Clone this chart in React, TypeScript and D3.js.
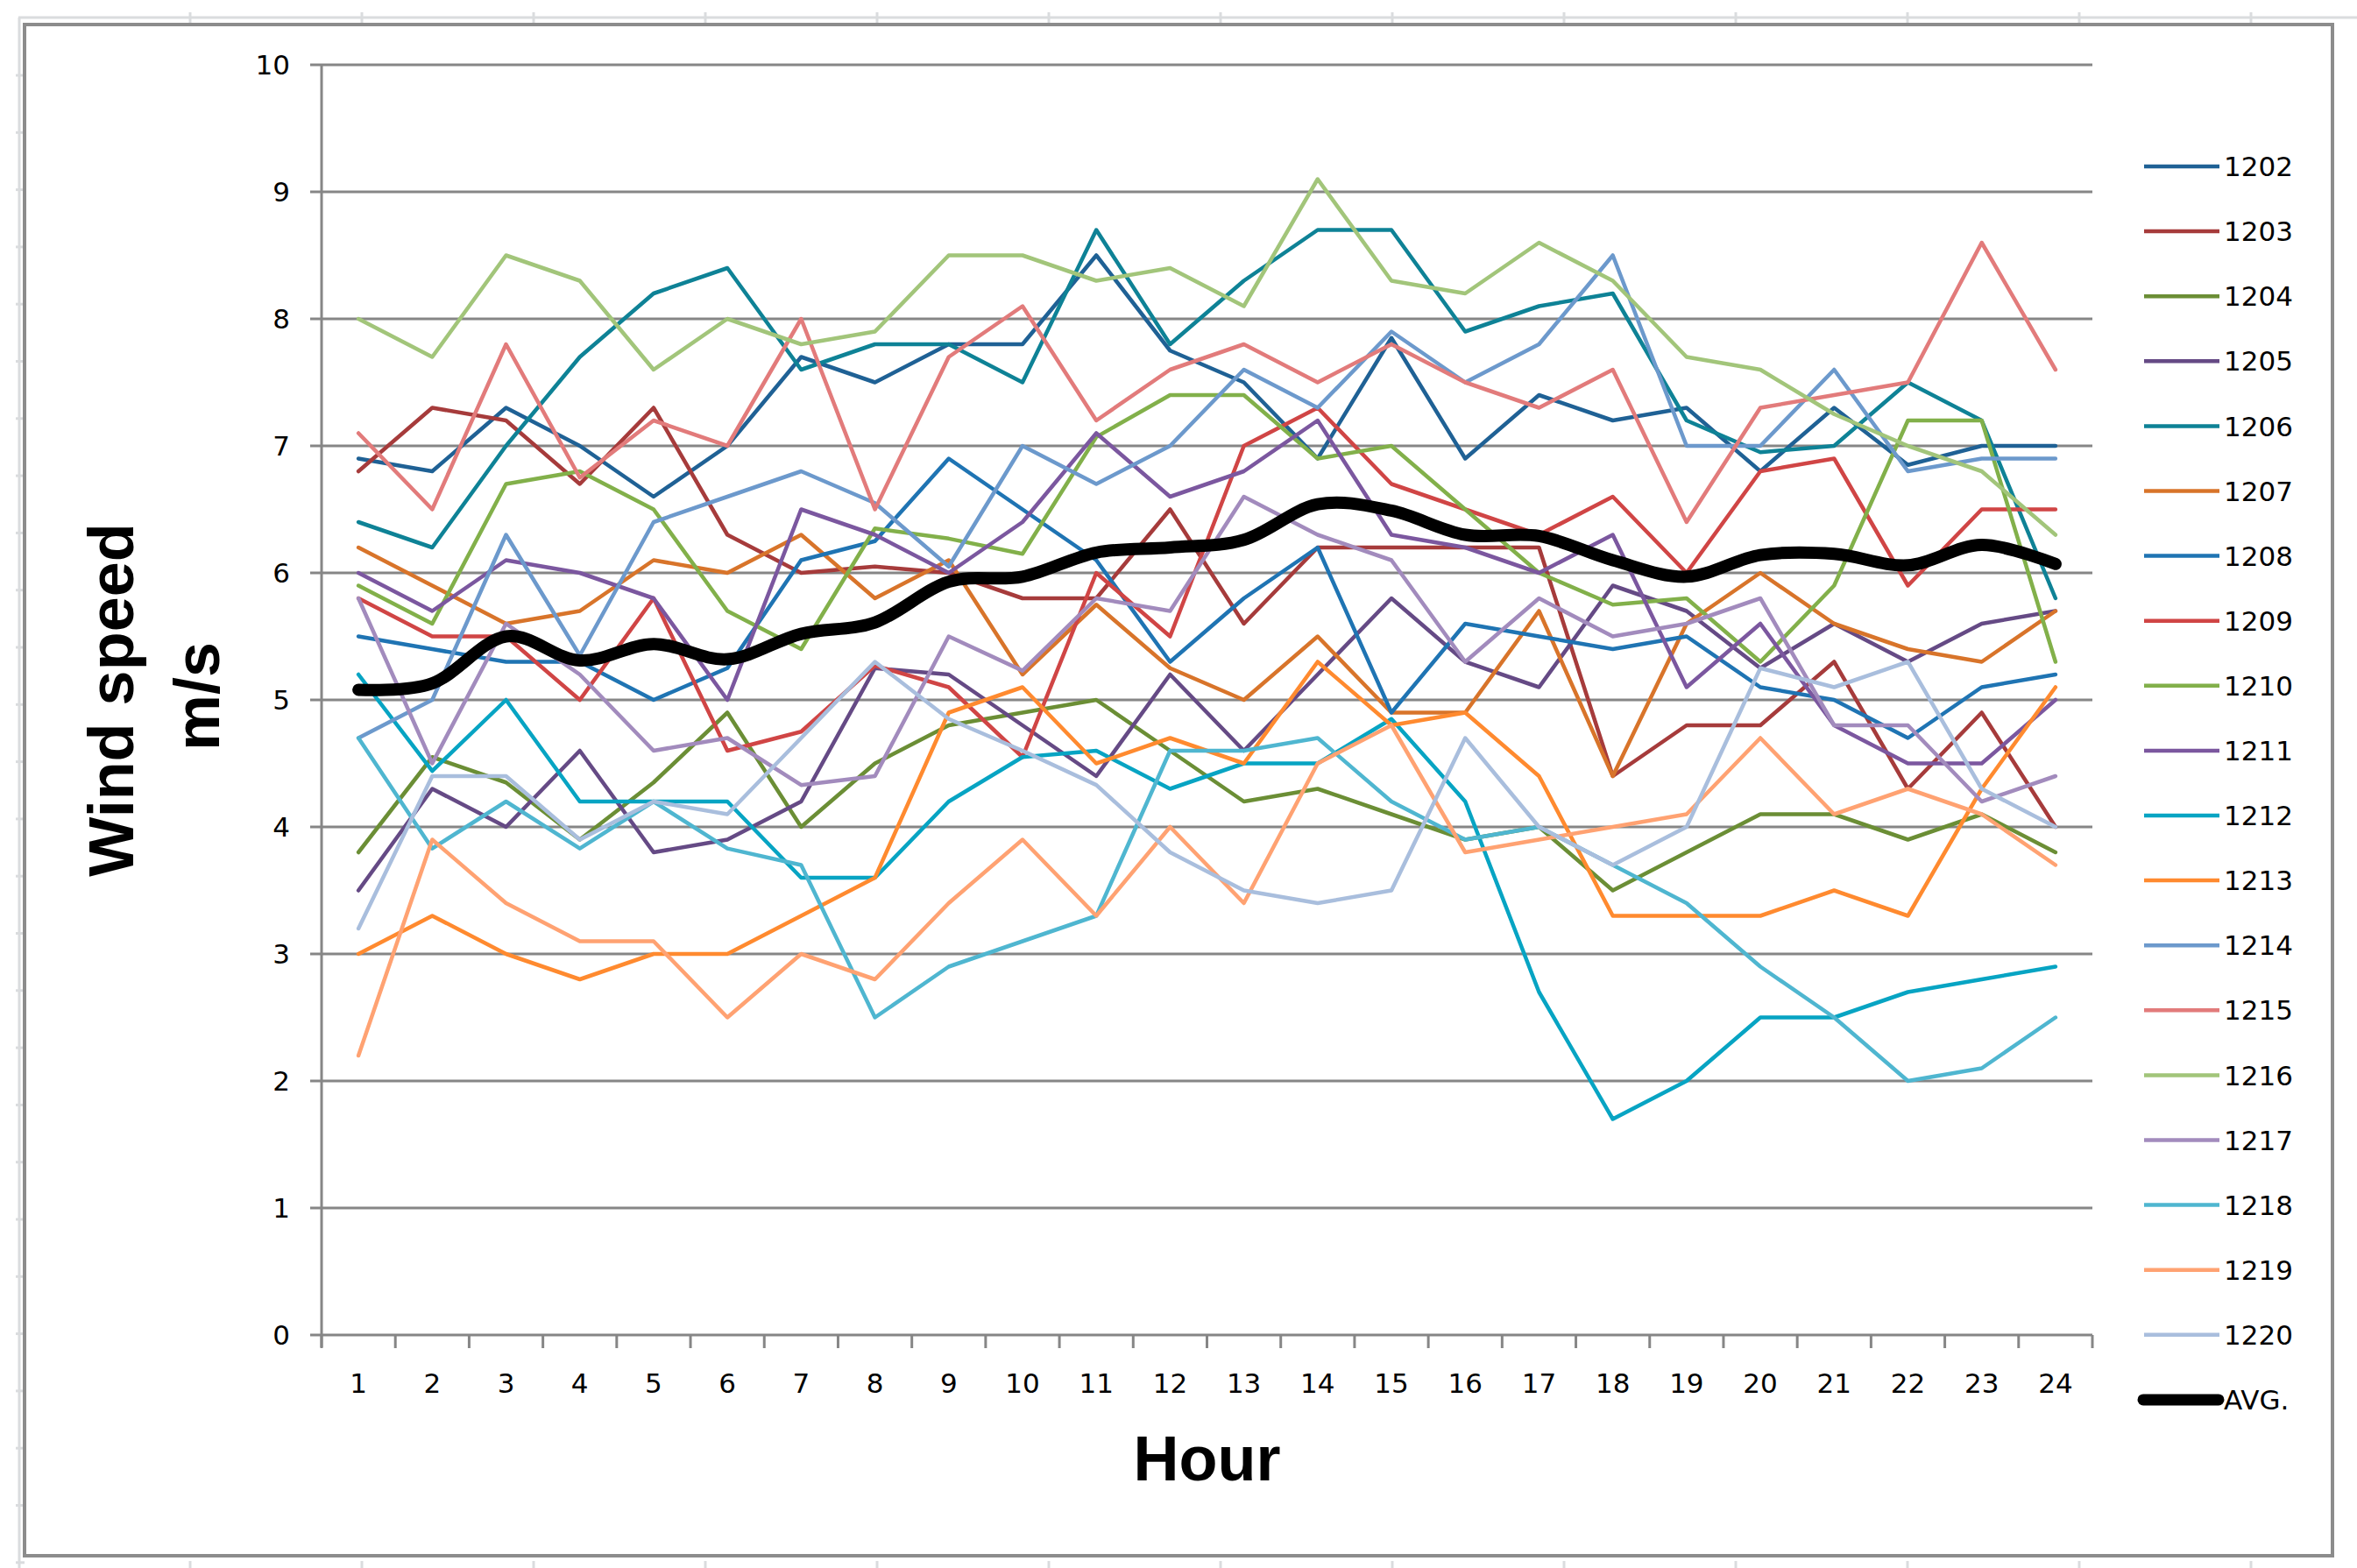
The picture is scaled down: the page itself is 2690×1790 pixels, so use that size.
import * as d3 from "d3";

// hours on the category axis
const HOURS = [1, 2, 3, 4, 5, 6, 7, 8, 9, 10, 11, 12, 13, 14, 15, 16, 17, 18, 19, 20, 21, 22, 23, 24];
const Y_TICKS = [0, 1, 2, 3, 4, 5, 6, 7, 8, 9, 10];

// wind speed per station, m/s, hour 1..24
const s1202 = [6.9, 6.8, 7.3, 7.0, 6.6, 7.0, 7.7, 7.5, 7.8, 7.8, 8.5, 7.75, 7.5, 6.9, 7.85, 6.9, 7.4, 7.2, 7.3, 6.8, 7.3, 6.85, 7.0, 7.0];
const s1203 = [6.8, 7.3, 7.2, 6.7, 7.3, 6.3, 6.0, 6.05, 6.0, 5.8, 5.8, 6.5, 5.6, 6.2, 6.2, 6.2, 6.2, 4.4, 4.8, 4.8, 5.3, 4.3, 4.9, 4.0];
const s1204 = [3.8, 4.55, 4.35, 3.9, 4.35, 4.9, 4.0, 4.5, 4.8, 4.9, 5.0, 4.6, 4.2, 4.3, 4.1, 3.9, 4.0, 3.5, 3.8, 4.1, 4.1, 3.9, 4.1, 3.8];
const s1205 = [3.5, 4.3, 4.0, 4.6, 3.8, 3.9, 4.2, 5.25, 5.2, 4.8, 4.4, 5.2, 4.6, 5.2, 5.8, 5.3, 5.1, 5.9, 5.7, 5.25, 5.6, 5.3, 5.6, 5.7];
const s1206 = [6.4, 6.2, 7.0, 7.7, 8.2, 8.4, 7.6, 7.8, 7.8, 7.5, 8.7, 7.8, 8.3, 8.7, 8.7, 7.9, 8.1, 8.2, 7.2, 6.95, 7.0, 7.5, 7.2, 5.8];
const s1207 = [6.2, 5.9, 5.6, 5.7, 6.1, 6.0, 6.3, 5.8, 6.1, 5.2, 5.75, 5.25, 5.0, 5.5, 4.9, 4.9, 5.7, 4.4, 5.6, 6.0, 5.6, 5.4, 5.3, 5.7];
const s1208 = [5.5, 5.4, 5.3, 5.3, 5.0, 5.25, 6.1, 6.25, 6.9, 6.5, 6.1, 5.3, 5.8, 6.2, 4.9, 5.6, 5.5, 5.4, 5.5, 5.1, 5.0, 4.7, 5.1, 5.2];
const s1209 = [5.8, 5.5, 5.5, 5.0, 5.8, 4.6, 4.75, 5.27, 5.1, 4.55, 6.0, 5.5, 7.0, 7.3, 6.7, 6.5, 6.3, 6.6, 6.0, 6.8, 6.9, 5.9, 6.5, 6.5];
const s1210 = [5.9, 5.6, 6.7, 6.8, 6.5, 5.7, 5.4, 6.35, 6.27, 6.15, 7.07, 7.4, 7.4, 6.9, 7.0, 6.5, 6.0, 5.75, 5.8, 5.3, 5.9, 7.2, 7.2, 5.3];
const s1211 = [6.0, 5.7, 6.1, 6.0, 5.8, 5.0, 6.5, 6.3, 6.0, 6.4, 7.1, 6.6, 6.8, 7.2, 6.3, 6.2, 6.0, 6.3, 5.1, 5.6, 4.8, 4.5, 4.5, 5.0];
const s1212 = [5.2, 4.44, 5.0, 4.2, 4.2, 4.2, 3.6, 3.6, 4.2, 4.55, 4.6, 4.3, 4.5, 4.5, 4.85, 4.2, 2.7, 1.7, 2.0, 2.5, 2.5, 2.7, 2.8, 2.9];
const s1213 = [3.0, 3.3, 3.0, 2.8, 3.0, 3.0, 3.3, 3.6, 4.9, 5.1, 4.5, 4.7, 4.5, 5.3, 4.8, 4.9, 4.4, 3.3, 3.3, 3.3, 3.5, 3.3, 4.3, 5.1];
const s1214 = [4.7, 5.0, 6.3, 5.35, 6.4, 6.6, 6.8, 6.55, 6.05, 7.0, 6.7, 7.0, 7.6, 7.3, 7.9, 7.5, 7.8, 8.5, 7.0, 7.0, 7.6, 6.8, 6.9, 6.9];
const s1215 = [7.1, 6.5, 7.8, 6.75, 7.2, 7.0, 8.0, 6.5, 7.7, 8.1, 7.2, 7.6, 7.8, 7.5, 7.8, 7.5, 7.3, 7.6, 6.4, 7.3, 7.4, 7.5, 8.6, 7.6];
const s1216 = [8.0, 7.7, 8.5, 8.3, 7.6, 8.0, 7.8, 7.9, 8.5, 8.5, 8.3, 8.4, 8.1, 9.1, 8.3, 8.2, 8.6, 8.3, 7.7, 7.6, 7.25, 7.0, 6.8, 6.3];
const s1217 = [5.8, 4.5, 5.6, 5.2, 4.6, 4.7, 4.33, 4.4, 5.5, 5.23, 5.8, 5.7, 6.6, 6.3, 6.1, 5.3, 5.8, 5.5, 5.6, 5.8, 4.8, 4.8, 4.2, 4.4];
const s1218 = [4.7, 3.83, 4.2, 3.83, 4.2, 3.83, 3.7, 2.5, 2.9, 3.1, 3.3, 4.6, 4.6, 4.7, 4.2, 3.9, 4.0, 3.7, 3.4, 2.9, 2.5, 2.0, 2.1, 2.5];
const s1219 = [2.2, 3.9, 3.4, 3.1, 3.1, 2.5, 3.0, 2.8, 3.4, 3.9, 3.3, 4.0, 3.4, 4.5, 4.8, 3.8, 3.9, 4.0, 4.1, 4.7, 4.1, 4.3, 4.1, 3.7];
const s1220 = [3.2, 4.4, 4.4, 3.9, 4.2, 4.1, 4.7, 5.3, 4.85, 4.6, 4.33, 3.8, 3.5, 3.4, 3.5, 4.7, 4.0, 3.7, 4.0, 5.25, 5.1, 5.3, 4.3, 4.0];
const avg = [5.08, 5.13, 5.5, 5.31, 5.44, 5.32, 5.52, 5.61, 5.93, 5.97, 6.16, 6.2, 6.26, 6.54, 6.49, 6.3, 6.29, 6.1, 5.97, 6.14, 6.15, 6.06, 6.22, 6.07];

const SERIES_NAMES = ["1202", "1203", "1204", "1205", "1206", "1207", "1208", "1209", "1210", "1211", "1212", "1213", "1214", "1215", "1216", "1217", "1218", "1219", "1220"];
const SERIES_VALUES = [s1202, s1203, s1204, s1205, s1206, s1207, s1208, s1209, s1210, s1211, s1212, s1213, s1214, s1215, s1216, s1217, s1218, s1219, s1220];
const SERIES_COLORS = [
  "#1f6195", "#a63b3b", "#6b8e35", "#654a85", "#0e8296", "#d8742a",
  "#1f74b3", "#d04545", "#82b04a", "#7b579f", "#07a4c3", "#ff8a2f",
  "#6c99cc", "#e27b7b", "#a2c57a", "#a28bbd", "#4fb6d0", "#ffa272", "#a9bedd",
];
const AVG_NAME = "AVG.";

const WIDTH = 2690;
const HEIGHT = 1790;
const left = 367;
const right = 2388;
const top = 74;
const bottom = 1524;

const grid = "#868686";
const tickFont = "DejaVu Sans";
const titleFont = "Liberation Sans, Arial, sans-serif";

export default function App() {
  const x = d3.scaleBand<number>().domain(HOURS).range([left, right]).padding(0);
  const y = d3.scaleLinear().domain([0, 10]).range([bottom, top]);
  const cx = (h: number) => (x(h) ?? 0) + x.bandwidth() / 2;

  const straight = d3
    .line<number>()
    .x((_, i) => cx(HOURS[i]))
    .y((v) => y(v));
  const smooth = d3
    .line<number>()
    .x((_, i) => cx(HOURS[i]))
    .y((v) => y(v))
    .curve(d3.curveCatmullRom.alpha(0));

  const boundaries = [...HOURS.map((h) => x(h) ?? 0), right];
  const legendY = d3.scaleLinear().domain([0, 1]).range([190, 264.1]);

  // faint worksheet cell lines behind the chart
  const sheetCols = d3.range(217, WIDTH, 196);
  const sheetRows = d3.range(86, HEIGHT, 65.3);

  return (
    <svg
      width={WIDTH}
      height={HEIGHT}
      viewBox={`0 0 ${WIDTH} ${HEIGHT}`}
      style={{ position: "absolute", left: 0, top: 0, background: "#fff" }}
    >
      <rect x={0} y={0} width={WIDTH} height={HEIGHT} fill="#fff" />

      <g stroke="#dadcde" strokeWidth={3}>
        <line x1={21} x2={WIDTH} y1={20} y2={20} />
        <line x1={22} x2={22} y1={20} y2={HEIGHT} />
        {sheetCols.map((c) => (
          <line key={`c${c}`} x1={c} x2={c} y1={14} y2={27} />
        ))}
        {sheetCols.map((c) => (
          <line key={`b${c}`} x1={c} x2={c} y1={1782} y2={HEIGHT} />
        ))}
        {sheetRows.map((r) => (
          <line key={`r${r}`} x1={18} x2={28} y1={r} y2={r} />
        ))}
      </g>

      <rect x={28} y={28} width={2634} height={1748} fill="#fff" stroke="#8c8c8c" strokeWidth={4} />

      {/* gridlines and axes */}
      <g stroke={grid} strokeWidth={3}>
        {Y_TICKS.map((t) => (
          <line key={`g${t}`} x1={354} x2={right} y1={y(t)} y2={y(t)} />
        ))}
        <line x1={left} x2={left} y1={top} y2={bottom + 14} />
        {boundaries.map((b, i) => (
          <line key={`xt${i}`} x1={b} x2={b} y1={bottom} y2={bottom + 15} />
        ))}
      </g>

      <g fontFamily={tickFont} fontSize={31} fill="#000">
        {Y_TICKS.map((t) => (
          <text key={`yl${t}`} x={331} y={y(t)} dy="0.36em" textAnchor="end">
            {t}
          </text>
        ))}
        {HOURS.map((h) => (
          <text key={`xl${h}`} x={cx(h)} y={1579} dy="0.36em" textAnchor="middle">
            {h}
          </text>
        ))}
      </g>

      {/* station series */}
      <g fill="none" strokeWidth={4.5} strokeLinejoin="round" strokeLinecap="round">
        {SERIES_VALUES.map((vals, i) => (
          <path key={SERIES_NAMES[i]} d={straight(vals) ?? ""} stroke={SERIES_COLORS[i]} />
        ))}
      </g>
      <path d={smooth(avg) ?? ""} fill="none" stroke="#000" strokeWidth={14} strokeLinecap="round" />

      {/* legend */}
      <g fontFamily={tickFont} fontSize={31} fill="#000">
        {SERIES_NAMES.map((name, i) => (
          <g key={`lg${name}`} transform={`translate(0,${legendY(i)})`}>
            <line x1={2447} x2={2533} y1={0} y2={0} stroke={SERIES_COLORS[i]} strokeWidth={4.5} />
            <text x={2538} y={0} dy="0.36em">
              {name}
            </text>
          </g>
        ))}
        <g transform={`translate(0,${legendY(SERIES_NAMES.length)})`}>
          <line x1={2446} x2={2532} y1={0} y2={0} stroke="#000" strokeWidth={13} strokeLinecap="round" />
          <text x={2538} y={0} dy="0.36em">
            {AVG_NAME}
          </text>
        </g>
      </g>

      {/* axis titles */}
      <g fontFamily={titleFont} fontWeight="bold" fontSize={72} fill="#000" textAnchor="middle">
        <text transform="translate(152,799) rotate(-90)">Wind speed</text>
        <text transform="translate(250,795) rotate(-90)">m/s</text>
        <text x={(left + right) / 2} y={1690}>
          Hour
        </text>
      </g>
    </svg>
  );
}
